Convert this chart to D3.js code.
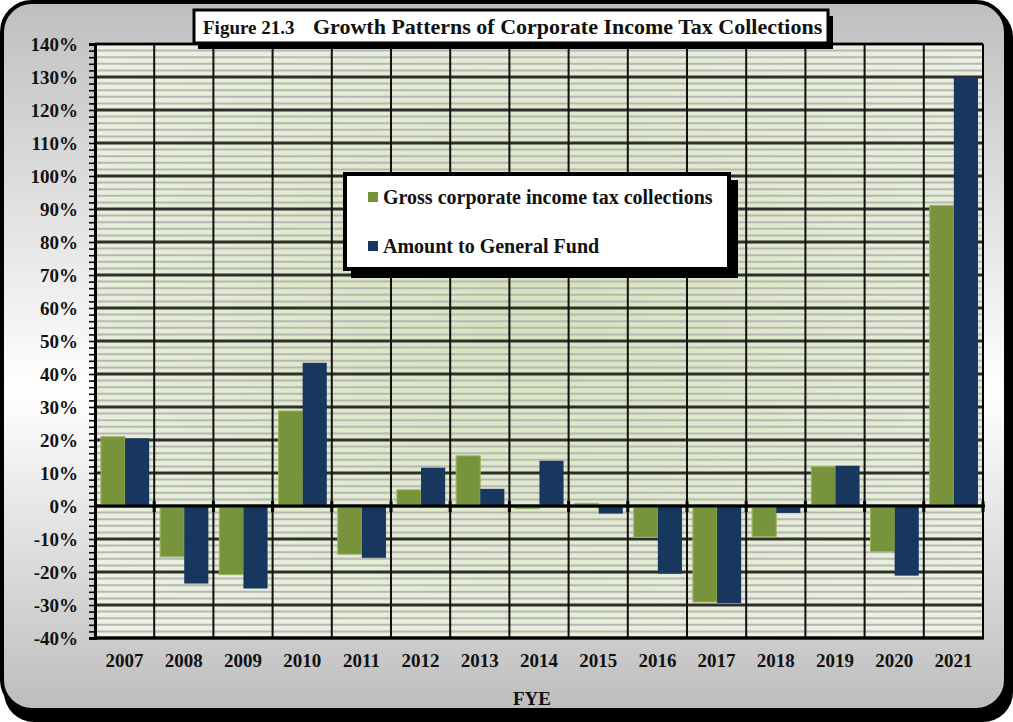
<!DOCTYPE html>
<html>
<head>
<meta charset="utf-8">
<script src="https://cdn.jsdelivr.net/npm/d3@7"></script>
<style>
  html, body { margin: 0; padding: 0; background: #ffffff; }
  svg { display: block; }
  text { font-family: "Liberation Serif", "Times New Roman", serif; font-weight: bold; fill: #111; }
</style>
</head>
<body>
<svg id="chart" width="1013" height="722"></svg>
<script>
// Fiscal years (FYE)
const years = ["2007", "2008", "2009", "2010", "2011", "2012", "2013", "2014",
               "2015", "2016", "2017", "2018", "2019", "2020", "2021"];
// Year-over-year growth, percent
const grossCollections = [21.0, -15.4, -20.8, 28.8, -14.6, 4.9, 15.2, -0.8,
                          0.8, -9.5, -29.1, -9.2, 11.9, -13.8, 91.1];
const generalFund = [20.5, -23.5, -25.0, 43.4, -15.7, 11.6, 5.2, 13.7,
                     -2.3, -20.5, -29.4, -2.1, 12.2, -21.1, 130.0];
const seriesNames = ["Gross corporate income tax collections", "Amount to General Fund"];
const seriesColors = ["#77933c", "#17375e"];
const yMajorTicks = d3.range(-40, 141, 10);
const yMinorTicks = d3.range(-40, 141, 2);

const svg = d3.select("#chart");
const defs = svg.append("defs");

// Panel background: grey at top and bottom, white in the middle
const pg = defs.append("linearGradient").attr("id", "panelGrad")
  .attr("x1", 0).attr("y1", 0).attr("x2", 0).attr("y2", 1);
pg.append("stop").attr("offset", "0%").attr("stop-color", "#bfbfbf");
pg.append("stop").attr("offset", "55%").attr("stop-color", "#ffffff");
pg.append("stop").attr("offset", "100%").attr("stop-color", "#bdbdbd");

// Plot area: soft green, a little deeper in the centre
const rg = defs.append("radialGradient").attr("id", "plotGrad")
  .attr("cx", "50%").attr("cy", "45%").attr("r", "65%");
rg.append("stop").attr("offset", "0%").attr("stop-color", "#d6e3bb");
rg.append("stop").attr("offset", "100%").attr("stop-color", "#ecf1e0");

// Outer frame with drop shadow
svg.append("rect").attr("x", 4).attr("y", 7).attr("width", 1009).attr("height", 715)
  .attr("rx", 30).attr("fill", "#000");
svg.append("rect").attr("x", 2).attr("y", 2).attr("width", 1004).attr("height", 708)
  .attr("rx", 30).attr("fill", "url(#panelGrad)").attr("stroke", "#000").attr("stroke-width", 4);

const plot = { left: 95, right: 983, top: 44, bottom: 638 };

const x = d3.scaleBand().domain(years).range([plot.left, plot.right]).paddingInner(0).paddingOuter(0);
const bw = x.bandwidth();
const xInner = d3.scaleBand().domain([0, 1]).range([bw * 0.1, bw * 0.915]).padding(0);
const y = d3.scaleLinear().domain([-40, 140]).range([plot.bottom, plot.top]);

// Plot background
svg.append("rect").attr("x", plot.left).attr("y", plot.top)
  .attr("width", plot.right - plot.left).attr("height", plot.bottom - plot.top)
  .attr("fill", "url(#plotGrad)");

// Minor gridlines
svg.append("g").selectAll("line").data(yMinorTicks.filter(v => v % 10 !== 0)).join("line")
  .attr("x1", plot.left).attr("x2", plot.right)
  .attr("y1", d => y(d)).attr("y2", d => y(d))
  .attr("stroke", "#b6b6b6").attr("stroke-width", 2);

// Major gridlines
svg.append("g").selectAll("line").data(yMajorTicks).join("line")
  .attr("x1", plot.left).attr("x2", plot.right)
  .attr("y1", d => y(d)).attr("y2", d => y(d))
  .attr("stroke", "#2e2e2e").attr("stroke-width", 3);

// Vertical gridlines at category boundaries
svg.append("g").selectAll("line").data(years.slice(1)).join("line")
  .attr("x1", d => x(d)).attr("x2", d => x(d))
  .attr("y1", plot.top).attr("y2", plot.bottom)
  .attr("stroke", "#111").attr("stroke-width", 2);

// Bars
const rows = years.map((yr, i) => ({ year: yr, values: [grossCollections[i], generalFund[i]] }));
const groups = svg.append("g").selectAll("g").data(rows).join("g")
  .attr("transform", d => `translate(${x(d.year)},0)`);
groups.selectAll("rect").data(d => d.values.map((v, k) => ({ v, k }))).join("rect")
  .attr("x", d => xInner(d.k))
  .attr("width", xInner.bandwidth())
  .attr("y", d => y(Math.max(0, d.v)))
  .attr("height", d => Math.abs(y(d.v) - y(0)))
  .attr("fill", d => seriesColors[d.k])
  .attr("stroke", d => d.k === 0 ? "#9bb55e" : "none")
  .attr("stroke-width", 1);

// Zero line with category tick marks
svg.append("line").attr("x1", plot.left).attr("x2", plot.right + 2)
  .attr("y1", y(0)).attr("y2", y(0)).attr("stroke", "#000").attr("stroke-width", 3);
svg.append("g").selectAll("line").data(years.slice(1).concat(["end"])).join("line")
  .attr("x1", d => d === "end" ? plot.right : x(d))
  .attr("x2", d => d === "end" ? plot.right : x(d))
  .attr("y1", y(0) - 5).attr("y2", y(0) + 6)
  .attr("stroke", "#000").attr("stroke-width", 3);

// Plot frame
svg.append("line").attr("x1", plot.left).attr("x2", plot.right).attr("y1", plot.top).attr("y2", plot.top)
  .attr("stroke", "#000").attr("stroke-width", 2);
svg.append("line").attr("x1", plot.right).attr("x2", plot.right).attr("y1", plot.top).attr("y2", plot.bottom)
  .attr("stroke", "#000").attr("stroke-width", 2);
svg.append("line").attr("x1", plot.left - 1).attr("x2", plot.right + 1).attr("y1", plot.bottom).attr("y2", plot.bottom)
  .attr("stroke", "#000").attr("stroke-width", 3);

// Y axis
const yAxisMinor = d3.axisLeft(y).tickValues(yMinorTicks).tickSize(6).tickFormat("");
svg.append("g").attr("transform", `translate(${plot.left},0)`).call(yAxisMinor)
  .call(g => g.select(".domain").attr("stroke", "#000").attr("stroke-width", 3))
  .call(g => g.selectAll(".tick line").attr("stroke", "#000").attr("stroke-width", 1.6));
const yAxis = d3.axisLeft(y).tickValues(yMajorTicks).tickSize(0).tickPadding(17)
  .tickFormat(d => d + "%");
svg.append("g").attr("transform", `translate(${plot.left},0)`).call(yAxis)
  .call(g => g.select(".domain").remove())
  .call(g => g.selectAll(".tick text")
    .style("font-family", '"Liberation Serif", serif').style("font-weight", "bold")
    .style("font-size", "19px").attr("fill", "#111"));

// X axis labels
const xAxis = d3.axisBottom(x).tickSize(0).tickPadding(16);
svg.append("g").attr("transform", `translate(0,${plot.bottom})`).call(xAxis)
  .call(g => g.select(".domain").remove())
  .call(g => g.selectAll(".tick text")
    .style("font-family", '"Liberation Serif", serif').style("font-weight", "bold")
    .style("font-size", "19px").attr("fill", "#111"));

svg.append("text").attr("x", 532).attr("y", 705).attr("text-anchor", "middle")
  .style("font-size", "19px").text("FYE");

// Legend
const lg = svg.append("g");
lg.append("rect").attr("x", 351).attr("y", 180).attr("width", 387).attr("height", 98).attr("fill", "#000");
lg.append("rect").attr("x", 345).attr("y", 174).attr("width", 384).attr("height", 95)
  .attr("fill", "#fff").attr("stroke", "#000").attr("stroke-width", 4);
seriesNames.forEach((name, i) => {
  const cy = 197 + i * 49;
  lg.append("rect").attr("x", 368).attr("y", cy - 5).attr("width", 10).attr("height", 10)
    .attr("fill", seriesColors[i]);
  lg.append("text").attr("x", 383).attr("y", cy + 7).style("font-size", "20px").text(name);
});

// Title box
const tg = svg.append("g");
tg.append("rect").attr("x", 198).attr("y", 16).attr("width", 635).attr("height", 33).attr("fill", "#000");
tg.append("rect").attr("x", 194).attr("y", 10).attr("width", 634).attr("height", 33)
  .attr("fill", "#fff").attr("stroke", "#000").attr("stroke-width", 3);
const title = tg.append("text").attr("x", 203).attr("y", 34);
title.append("tspan").style("font-size", "19px").text("Figure 21.3");
title.append("tspan").attr("x", 313).style("font-size", "22px")
  .text("Growth Patterns of Corporate Income Tax Collections");
</script>
</body>
</html>
